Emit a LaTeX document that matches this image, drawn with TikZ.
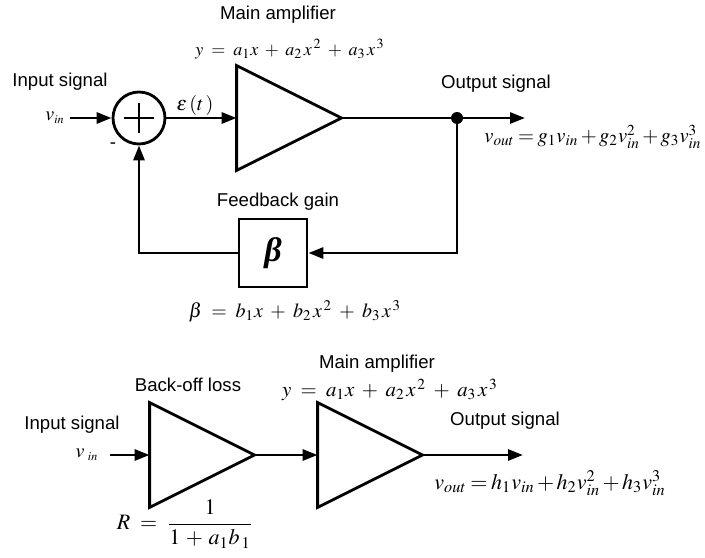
\documentclass[tikz,border=0pt]{standalone}
\usepackage{amsmath}
\usepackage{mathptmx}
\usepackage[no-math]{fontspec}
\setmainfont{Liberation Sans}
\newfontfamily\timesfont{Liberation Serif}
\usetikzlibrary{arrows.meta,positioning,calc}

\begin{document}
\begin{tikzpicture}[
    x=0.5pt, y=-0.5pt,
    font=\fontsize{9.3}{11}\selectfont,
    line width=1.4pt,
    amp/.style={minimum width=51pt, minimum height=51pt, inner sep=0pt},
    sumnode/.style={draw, circle, minimum size=26pt, inner sep=0pt},
    gainbox/.style={draw, minimum size=34pt, inner sep=0pt},
    eqn/.style={font=\fontsize{10}{12}\selectfont, inner sep=0pt},
    outeqn/.style={font=\fontsize{11}{13}\selectfont, inner sep=0pt,
      execute at begin node={\medmuskip=2mu\thickmuskip=3mu}},
    arrow/.style={-{Triangle[length=7.5pt, width=5.5pt]}}
  ]
    \useasboundingbox (0,0) rectangle (705,557);
    % feedback loop
    \node[sumnode] (sum) at (139,118) {};
    \draw[line width=1.2pt] ($(sum.center)+(-15,0)$) -- ($(sum.center)+(15,0)$)
      ($(sum.center)+(0,-15)$) -- ($(sum.center)+(0,15)$);
    \node[amp] (amp) at (289,118) {};
    \draw (amp.north west) -- (amp.east) -- (amp.south west) -- cycle;
    \node[gainbox] (fb) at (273,253) {\fontsize{17}{19}\selectfont\timesfont\bfseries\itshape β};
    \coordinate (vin) at (70,118);
    \coordinate (split) at (457,118);
    \coordinate (out) at (525,118);
    \fill (split) circle (6);
    \draw[arrow] (vin) -- (sum);
    \draw[arrow] (sum) -- (amp);
    \draw[arrow] (amp.east) -- (out);
    \draw[arrow] (split) |- (fb);
    \draw[arrow] (fb) -| (sum);
    \node (amptitle) at (278,15) {Main amplifier};
    \node[eqn, font=\fontsize{9}{11}\selectfont] (ampeq) at (290,49)
      {$y\;=\;a_{1}x\;+\;a_{2\,}x^{\,2}\;+\;a_{3\,}x^{\,3}$};
    \node (intitle) at (60,82) {Input signal};
    \node[eqn, left] (vinlab) at (66,118) {$v_{\scriptscriptstyle in}$};
    \node (minus) at (113,146) {-};
    \node[eqn] (err) at (195,105) {$\varepsilon\,(t\,)$};
    \node (outtitle) at (496,84) {Output signal};
    \node[outeqn, right, font=\fontsize{10.3}{12}\selectfont] (outeq) at (483,137)
      {$v_{out}=g_1v_{in}+g_2v_{in}^2+g_3v_{in}^3$};
    \node (fbtitle) at (278,202) {Feedback gain};
    \node[eqn] (fbeq) at (295,311) {$\beta\;=\;b_{1}x\;+\;b_{2\,}x^{\,2}\;+\;b_{3\,}x^{\,3}$};
    % back-off model
    \node[amp] (bo) at (202,455) {};
    \draw (bo.north west) -- (bo.east) -- (bo.south west) -- cycle;
    \node[amp] (main) at (370,455) {};
    \draw (main.north west) -- (main.east) -- (main.south west) -- cycle;
    \coordinate (vin2) at (110,455);
    \coordinate (out2) at (523,455);
    \draw[arrow] (vin2) -- (bo.west);
    \draw[arrow] (bo.east) -- (main.west);
    \draw[arrow] (main.east) -- (out2);
    \node (botitle) at (188,385) {Back-off loss};
    \node (intitle2) at (72,425) {Input signal};
    \node[eqn] (vinlab2) at (87,455) {$v_{\;\scriptscriptstyle in}$};
    \node (maintitle) at (377,364) {Main amplifier};
    \node[eqn, font=\fontsize{10.4}{12}\selectfont] (maineq) at (390,390)
      {$y\;=\;a_{1}x\;+\;a_{2\,}x^{\,2}\;+\;a_{3\,}x^{\,3}$};
    \node (outtitle2) at (505,421) {Output signal};
    \node[outeqn, right] (outeq2) at (433,483)
      {$v_{out}=h_1v_{in}+h_2v_{in}^2+h_3v_{in}^3$};
    \node[eqn, font=\fontsize{11}{13}\selectfont] (boeq) at (185,524) {$R\;=\;\dfrac{1}{1\,+\,a_{1}b_{\,1}}$};
\end{tikzpicture}
\end{document}
